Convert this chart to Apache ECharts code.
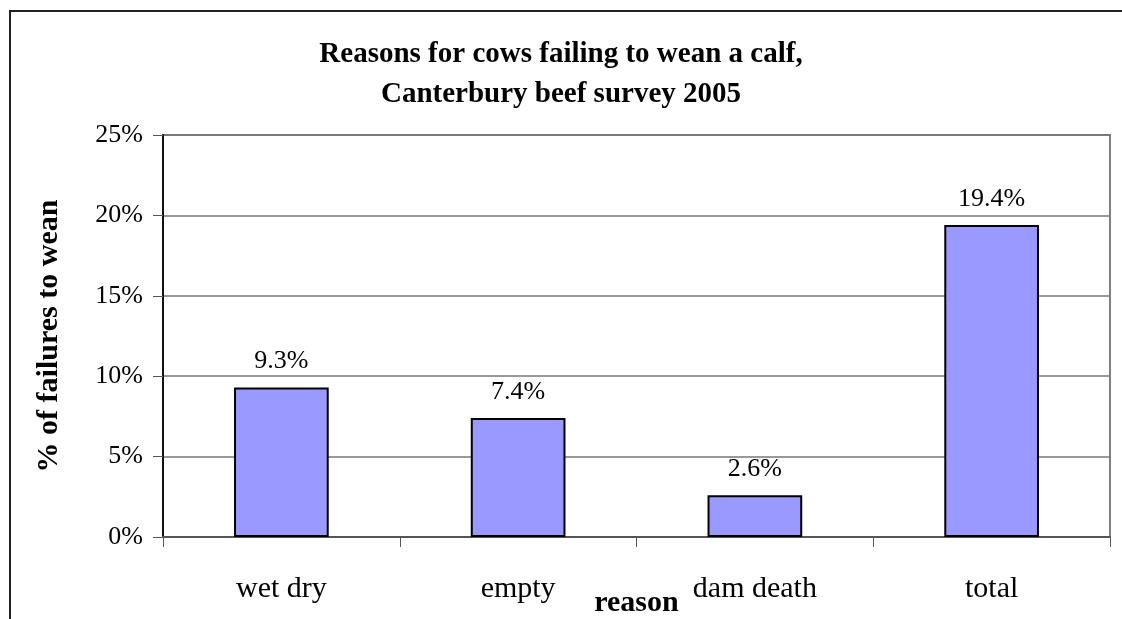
<!DOCTYPE html>
<html>
<head>
<meta charset="utf-8">
<script src="https://cdn.jsdelivr.net/npm/echarts@6/dist/echarts.min.js"></script>
<style>
    body { margin: 0; background: #fff; }
    #main { width: 1122px; height: 619px; }
</style>
</head>
<body>
<div id="main"></div>
<script>
let reasons = ['wet dry', 'empty', 'dam death', 'total'];
let failurePct = [9.3, 7.4, 2.6, 19.4];
let yTicks = [0, 5, 10, 15, 20, 25];

function drawChart() {
    let myChart = echarts.init(document.getElementById('main'));
    let serif = '"Liberation Serif", "Times New Roman", serif';

    let option = {
        animation: false,
        textStyle: { fontFamily: serif },
        title: {
            text: 'Reasons for cows failing to wean a calf,\nCanterbury beef survey 2005',
            left: 'center',
            top: 30,
            textStyle: {
                fontFamily: serif,
                fontSize: 29,
                fontWeight: 'bold',
                color: '#000',
                lineHeight: 40
            }
        },
        graphic: [
            {
                type: 'rect',
                shape: { x: 10, y: 11, width: 1200, height: 700 },
                style: { fill: 'none', stroke: '#222', lineWidth: 2 },
                silent: true
            }
        ],
        grid: {
            left: 163,
            top: 135,
            right: 12,
            bottom: 82,
            outerBoundsMode: 'none',
            show: true,
            borderColor: '#808080',
            borderWidth: 2
        },
        xAxis: {
            type: 'category',
            data: reasons,
            name: 'reason',
            nameLocation: 'middle',
            nameGap: 51,
            nameMoveOverlap: false,
            nameTextStyle: { fontFamily: serif, fontSize: 30, fontWeight: 'bold', color: '#000' },
            axisLine: { lineStyle: { color: '#555', width: 2 } },
            axisTick: { show: true, length: 10, lineStyle: { color: '#555', width: 1 } },
            axisLabel: { fontFamily: serif, fontSize: 30, color: '#000', margin: 37 },
            splitLine: { show: false }
        },
        yAxis: {
            type: 'value',
            min: 0,
            max: 25,
            interval: 5,
            name: '% of failures to wean',
            nameLocation: 'middle',
            nameGap: 99,
            nameMoveOverlap: false,
            nameTextStyle: { fontFamily: serif, fontSize: 30, fontWeight: 'bold', color: '#000' },
            axisLine: { show: true, lineStyle: { color: '#111', width: 2 } },
            axisTick: { show: true, length: 10, lineStyle: { color: '#555', width: 1 } },
            axisLabel: {
                fontFamily: serif,
                fontSize: 26,
                color: '#000',
                margin: 20,
                formatter: function (v) {
                    return yTicks.indexOf(v) >= 0 ? v + '%' : '';
                }
            },
            splitLine: { show: true, lineStyle: { color: '#777', width: 1.5 } }
        },
        series: [
            {
                type: 'bar',
                data: failurePct,
                barWidth: '40%',
                itemStyle: { color: '#9999FF', borderColor: '#000', borderWidth: 2 },
                label: {
                    show: true,
                    position: 'top',
                    distance: 13,
                    fontFamily: serif,
                    fontSize: 26,
                    color: '#000',
                    formatter: function (p) { return p.value.toFixed(1) + '%'; }
                }
            }
        ]
    };

    myChart.setOption(option);
}

drawChart();
</script>
</body>
</html>
